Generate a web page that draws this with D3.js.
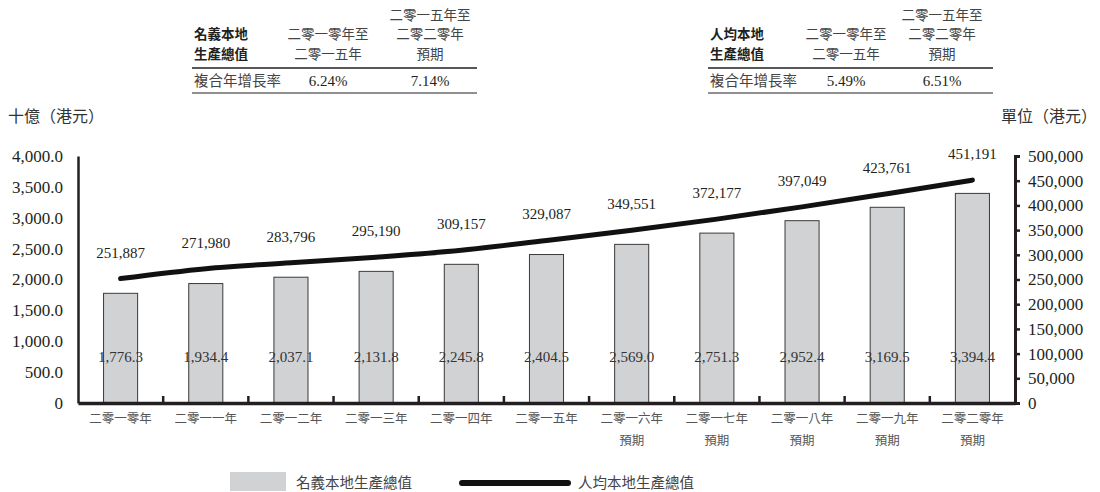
<!DOCTYPE html>
<html>
<head>
<meta charset="utf-8">
<script src="https://cdn.jsdelivr.net/npm/d3@7"></script>
<style>
  html, body { margin: 0; padding: 0; background: #fff; }
  svg { display: block; }
</style>
</head>
<body>
<svg id="chart" width="1100" height="492"></svg>
<script>
// Years and forecast markers
const categories = ["二零一零年", "二零一一年", "二零一二年", "二零一三年", "二零一四年", "二零一五年",
                    "二零一六年", "二零一七年", "二零一八年", "二零一九年", "二零二零年"];
const forecastFlags = [false, false, false, false, false, false, true, true, true, true, true];

// Nominal GDP, HK$ billion (bars, left axis)
const nominalGdp = [1776.3, 1934.4, 2037.1, 2131.8, 2245.8, 2404.5, 2569.0, 2751.3, 2952.4, 3169.5, 3394.4];
// Per-capita GDP, HK$ (line, right axis)
const perCapitaGdp = [251887, 271980, 283796, 295190, 309157, 329087, 349551, 372177, 397049, 423761, 451191];

// Axis ticks
const leftTicks = [0, 500, 1000, 1500, 2000, 2500, 3000, 3500, 4000];
const rightTicks = [0, 50000, 100000, 150000, 200000, 250000, 300000, 350000, 400000, 450000, 500000];

// CAGR summary tables
const periodHeaders = [["二零一零年至", "二零一五年"], ["二零一五年至", "二零二零年", "預期"]];
const nominalCagr = ["6.24%", "7.14%"];
const perCapitaCagr = ["5.49%", "6.51%"];

const SERIF = "'Liberation Serif', 'Times New Roman', serif";
const CJK = "'Noto Sans CJK TC', 'Noto Sans CJK SC', sans-serif";
const INK = "#231f20";

const svg = d3.select("#chart");

const plot = { left: 78, right: 1015, top: 156, bottom: 403 };

const x = d3.scaleBand()
  .domain(categories)
  .range([plot.left, plot.right])
  .paddingInner(0.6)
  .paddingOuter(0.3);

const yLeft = d3.scaleLinear().domain([0, 4000]).range([plot.bottom, plot.top]);
const yRight = d3.scaleLinear().domain([0, 500000]).range([plot.bottom, plot.top]);

const fmtBar = d3.format(",.1f");
const fmtInt = d3.format(",");

// Bars
svg.append("g").selectAll("rect")
  .data(nominalGdp)
  .join("rect")
  .attr("x", (d, i) => x(categories[i]))
  .attr("y", d => yLeft(d))
  .attr("width", x.bandwidth())
  .attr("height", d => plot.bottom - yLeft(d))
  .attr("fill", "#d1d2d4")
  .attr("stroke", "#3a3a3a")
  .attr("stroke-width", 1);

// Bar value labels
svg.append("g").selectAll("text")
  .data(nominalGdp)
  .join("text")
  .attr("x", (d, i) => x(categories[i]) + x.bandwidth() / 2)
  .attr("y", 362)
  .attr("text-anchor", "middle")
  .attr("font-family", SERIF)
  .attr("font-size", 15)
  .attr("fill", "#333")
  .text(d => fmtBar(d));

// Per-capita line
const line = d3.line()
  .x((d, i) => x(categories[i]) + x.bandwidth() / 2)
  .y(d => yRight(d))
  .curve(d3.curveMonotoneX);

svg.append("path")
  .datum(perCapitaGdp)
  .attr("d", line)
  .attr("fill", "none")
  .attr("stroke", "#111")
  .attr("stroke-width", 5)
  .attr("stroke-linecap", "round");

// Per-capita value labels
svg.append("g").selectAll("text")
  .data(perCapitaGdp)
  .join("text")
  .attr("x", (d, i) => x(categories[i]) + x.bandwidth() / 2)
  .attr("y", d => yRight(d) - 21)
  .attr("text-anchor", "middle")
  .attr("font-family", SERIF)
  .attr("font-size", 15)
  .attr("fill", INK)
  .text(d => fmtInt(d));

// Left axis
const leftAxis = svg.append("g")
  .attr("transform", `translate(${plot.left},0)`)
  .call(d3.axisLeft(yLeft).tickValues(leftTicks).tickSize(0).tickPadding(15)
    .tickFormat(d => d === 0 ? "0" : fmtBar(d)));
leftAxis.select(".domain").attr("stroke", INK).attr("stroke-width", 2.5);
leftAxis.selectAll("text")
  .attr("font-family", SERIF).attr("font-size", 17).attr("fill", INK);

// Right axis
const rightAxis = svg.append("g")
  .attr("transform", `translate(${plot.right},0)`)
  .call(d3.axisRight(yRight).tickValues(rightTicks).tickSize(5).tickPadding(8)
    .tickFormat(d => fmtInt(d)));
rightAxis.select(".domain").attr("stroke", INK).attr("stroke-width", 3);
rightAxis.selectAll(".tick line").attr("stroke", INK).attr("stroke-width", 2.5);
rightAxis.selectAll("text")
  .attr("font-family", SERIF).attr("font-size", 17).attr("fill", INK);

// Bottom axis with separators between categories
const bottomAxis = svg.append("g")
  .attr("transform", `translate(0,${plot.bottom})`)
  .call(d3.axisBottom(x).tickSize(0).tickPadding(0).tickFormat(""));
bottomAxis.select(".domain").attr("stroke", INK).attr("stroke-width", 3.5);

const gap = x.step() - x.bandwidth();
svg.append("g").selectAll("line")
  .data(categories.slice(0, -1))
  .join("line")
  .attr("x1", d => x(d) + x.bandwidth() + gap / 2)
  .attr("x2", d => x(d) + x.bandwidth() + gap / 2)
  .attr("y1", plot.bottom)
  .attr("y2", plot.bottom - 7)
  .attr("stroke", INK)
  .attr("stroke-width", 2.5);

// Category labels (second line "預期" for forecast years)
svg.append("g").selectAll("text")
  .data(categories)
  .join("text")
  .attr("text-anchor", "middle")
  .attr("font-family", CJK)
  .attr("font-size", 12.5)
  .attr("fill", "#555")
  .each(function (d, i) {
    const cx = x(d) + x.bandwidth() / 2;
    const t = d3.select(this);
    t.append("tspan").attr("x", cx).attr("y", 423).text(d);
    if (forecastFlags[i]) t.append("tspan").attr("x", cx).attr("y", 445).text("預期");
  });

// Axis titles
svg.append("text")
  .attr("x", 8).attr("y", 122)
  .attr("font-family", CJK).attr("font-size", 16).attr("fill", "#333")
  .text("十億（港元）");
svg.append("text")
  .attr("x", 1097).attr("y", 122)
  .attr("text-anchor", "end")
  .attr("font-family", CJK).attr("font-size", 16).attr("fill", "#333")
  .text("單位（港元）");

// Multi-line text block: one <text> with a tspan per line, bottom line on baseline
const HEAD_SIZE = 13.5;
const ROW = 19.6;
function textBlock(g, lines, xPos, baseline, anchor) {
  const t = g.append("text")
    .attr("text-anchor", anchor)
    .attr("font-family", CJK)
    .attr("font-size", HEAD_SIZE);
  lines.forEach((s, k) => {
    t.append("tspan")
      .attr("x", xPos)
      .attr("y", baseline - (lines.length - 1 - k) * ROW)
      .text(s);
  });
  return t;
}

// CAGR tables
function cagrTable(x0, x1, title, values, colCenters) {
  const g = svg.append("g");
  textBlock(g, title, x0 + 2, 59, "start")
    .attr("font-weight", "bold").attr("fill", INK);
  periodHeaders.forEach((lines, c) => {
    textBlock(g, lines, colCenters[c], 59, "middle").attr("fill", "#444");
  });
  g.append("line").attr("x1", x0).attr("x2", x1).attr("y1", 68).attr("y2", 68)
    .attr("stroke", INK).attr("stroke-width", 1.6);
  g.append("text")
    .attr("x", x0 + 2).attr("y", 86)
    .attr("font-family", CJK).attr("font-size", 14.5).attr("fill", "#444")
    .text("複合年增長率");
  values.forEach((v, c) => {
    g.append("text")
      .attr("x", colCenters[c]).attr("y", 86)
      .attr("text-anchor", "middle")
      .attr("font-family", SERIF).attr("font-size", 15).attr("fill", INK)
      .text(v);
  });
  g.append("line").attr("x1", x0).attr("x2", x1).attr("y1", 93).attr("y2", 93)
    .attr("stroke", INK).attr("stroke-width", 1);
}
cagrTable(192, 477, ["名義本地", "生產總值"], nominalCagr, [328, 430]);
cagrTable(708, 993, ["人均本地", "生產總值"], perCapitaCagr, [846, 942]);

// Legend
const legend = svg.append("g");
legend.append("rect")
  .attr("x", 230).attr("y", 472).attr("width", 56).attr("height", 19)
  .attr("fill", "#d1d2d4");
legend.append("text")
  .attr("x", 296).attr("y", 488)
  .attr("font-family", CJK).attr("font-size", 14.5).attr("fill", "#444")
  .text("名義本地生產總值");
legend.append("line")
  .attr("x1", 462).attr("x2", 568).attr("y1", 483).attr("y2", 483)
  .attr("stroke", "#111").attr("stroke-width", 6).attr("stroke-linecap", "round");
legend.append("text")
  .attr("x", 578).attr("y", 488)
  .attr("font-family", CJK).attr("font-size", 14.5).attr("fill", "#444")
  .text("人均本地生產總值");
</script>
</body>
</html>
